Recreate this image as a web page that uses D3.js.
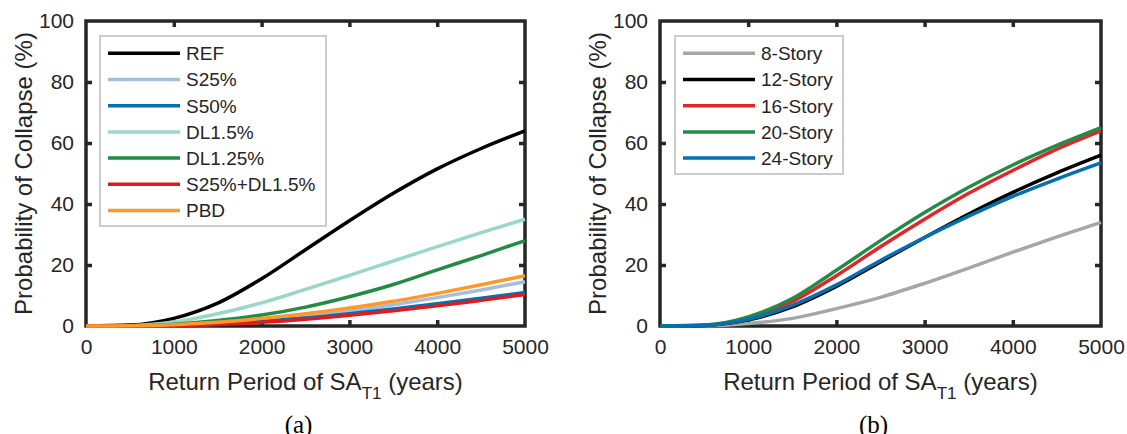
<!DOCTYPE html>
<html>
<head>
<meta charset="utf-8">
<script src="https://cdn.jsdelivr.net/npm/d3@7"></script>
<style>
  html, body { margin: 0; padding: 0; background: #fff; }
  svg { display: block; }
  text { font-family: "Liberation Sans", Arial, sans-serif; fill: #262626; }
  .caption { font-family: "Liberation Serif", "Times New Roman", serif; fill: #000; }
</style>
</head>
<body>
<svg id="chart" width="1127" height="434"></svg>
<script>
// return period (years)
const years = [0, 500, 1000, 1500, 2000, 2500, 3000, 3500, 4000, 4500, 5000];
const xTicks = [0, 1000, 2000, 3000, 4000, 5000];
const yTicks = [0, 20, 40, 60, 80, 100];

// (a) design variants, probability of collapse (%)
const namesA = ['REF', 'S25%', 'S50%', 'DL1.5%', 'DL1.25%', 'S25%+DL1.5%', 'PBD'];
const ref      = [0, 0.3, 2.5, 7.5, 15.5, 25, 34.5, 43.5, 51.5, 58.2, 64];
const s25      = [0, 0, 0.2, 0.8, 1.8, 3.2, 4.9, 7, 9.3, 11.8, 14.5];
const s50      = [0, 0, 0.15, 0.6, 1.5, 2.6, 4, 5.6, 7.3, 9.1, 11];
const dl15     = [0, 0.1, 1.3, 4, 7.6, 12, 16.6, 21.3, 26, 30.6, 35];
const dl125    = [0, 0.05, 0.6, 1.8, 3.6, 6.2, 9.6, 13.6, 18.4, 23.1, 28];
const s25dl15  = [0, 0, 0.1, 0.5, 1.2, 2.2, 3.5, 5, 6.6, 8.4, 10.3];
const pbd      = [0, 0.05, 0.4, 1.2, 2.5, 4, 5.9, 8.1, 10.7, 13.5, 16.5];
const valuesA = [ref, s25, s50, dl15, dl125, s25dl15, pbd];
const colorsA = ['#000000', '#a6bddb', '#0570b0', '#99d8c9', '#238b45', '#e31a1c', '#fe9929'];

// (b) building height
const namesB = ['8-Story', '12-Story', '16-Story', '20-Story', '24-Story'];
const story8  = [0, 0.05, 0.8, 2.5, 5.7, 9.4, 14, 19, 24.2, 29.2, 34];
const story12 = [0, 0.2, 2, 6.3, 13, 21, 29, 36.7, 43.8, 50.2, 56];
const story16 = [0, 0.25, 2.5, 8, 16.5, 26, 35, 43.5, 51, 58, 64];
const story20 = [0, 0.3, 3, 9, 18.3, 28, 37.2, 45.5, 52.8, 59.2, 65];
const story24 = [0, 0.2, 2.2, 6.8, 13.5, 21.5, 29, 36, 42.5, 48.2, 53.5];
const valuesB = [story8, story12, story16, story20, story24];
const colorsB = ['#a6a6a6', '#000000', '#e0262b', '#238b45', '#0570b0'];

const svg = d3.select('#chart');

function drawPanel(opts) {
    const { left, right, top, bottom, names, values, colors, legend, caption } = opts;

    const x = d3.scaleLinear().domain([0, 5000]).range([left, right]);
    const y = d3.scaleLinear().domain([0, 100]).range([bottom, top]);
    const g = svg.append('g');

    // 枠
    g.append('rect')
        .attr('x', left).attr('y', top)
        .attr('width', right - left).attr('height', bottom - top)
        .attr('fill', 'none').attr('stroke', '#262626').attr('stroke-width', 3.5);

    // 内向きの目盛り（四辺）
    const tickLen = 6;
    const axisStyle = sel => {
        sel.select('.domain').remove();
        sel.selectAll('.tick line').attr('stroke', '#262626').attr('stroke-width', 3.5);
        sel.selectAll('.tick text').style('font-size', '21px').attr('fill', '#262626');
    };
    g.append('g').attr('transform', `translate(0,${bottom})`)
        .call(d3.axisBottom(x).tickValues(xTicks).tickSize(-tickLen).tickPadding(13).tickFormat(d3.format('d')))
        .call(axisStyle);
    g.append('g').attr('transform', `translate(0,${top})`)
        .call(d3.axisTop(x).tickValues(xTicks.slice(1, -1)).tickSize(-tickLen).tickFormat(''))
        .call(axisStyle);
    g.append('g').attr('transform', `translate(${left},0)`)
        .call(d3.axisLeft(y).tickValues(yTicks).tickSize(-tickLen).tickPadding(12))
        .call(axisStyle);
    g.append('g').attr('transform', `translate(${right},0)`)
        .call(d3.axisRight(y).tickValues(yTicks.slice(1, -1)).tickSize(-tickLen).tickFormat(''))
        .call(axisStyle);
    g.selectAll('.tick').filter(d => d === 0 || d === 5000 || d === 100)
        .select('line').remove();

    // 曲線
    const line = d3.line()
        .x((d, i) => x(years[i]))
        .y(d => y(d))
        .curve(d3.curveMonotoneX);
    values.forEach((vals, i) => {
        g.append('path')
            .datum(vals)
            .attr('d', line)
            .attr('fill', 'none')
            .attr('stroke', colors[i])
            .attr('stroke-width', 3.5);
    });

    // 軸ラベル
    const cx = (left + right) / 2;
    const xt = g.append('text')
        .attr('x', cx).attr('y', 390)
        .attr('text-anchor', 'middle')
        .style('font-size', '24px');
    xt.append('tspan').text('Return Period of SA');
    xt.append('tspan').attr('dy', 9).style('font-size', '17px').text('T1');
    xt.append('tspan').attr('dy', -9).text(' (years)');

    g.append('text')
        .attr('transform', `translate(${left - 54},${(top + bottom) / 2}) rotate(-90)`)
        .attr('text-anchor', 'middle')
        .style('font-size', '24px')
        .text('Probability of Collapse (%)');

    // 凡例
    const lg = g.append('g');
    lg.append('rect')
        .attr('x', legend.x).attr('y', legend.y)
        .attr('width', legend.w).attr('height', legend.h)
        .attr('fill', '#fff').attr('stroke', '#cccccc').attr('stroke-width', 2);
    names.forEach((name, i) => {
        const ly = legend.y + 17.3 + i * 26.2;
        lg.append('line')
            .attr('x1', legend.x + 8).attr('x2', legend.x + 80)
            .attr('y1', ly).attr('y2', ly)
            .attr('stroke', colors[i]).attr('stroke-width', 3.5);
        lg.append('text')
            .attr('x', legend.x + 86).attr('y', ly)
            .attr('dy', '0.36em')
            .style('font-size', '19px')
            .attr('fill', '#000')
            .text(name);
    });

    svg.append('text')
        .attr('class', 'caption')
        .attr('x', cx - 7).attr('y', 433)
        .attr('text-anchor', 'middle')
        .style('font-size', '25px')
        .text(caption);
}

drawPanel({
    left: 86, right: 525, top: 21, bottom: 326,
    names: namesA, values: valuesA, colors: colorsA,
    legend: { x: 100, y: 36, w: 226, h: 190 },
    caption: '(a)'
});

drawPanel({
    left: 660, right: 1101, top: 21, bottom: 326,
    names: namesB, values: valuesB, colors: colorsB,
    legend: { x: 675, y: 36, w: 168, h: 138 },
    caption: '(b)'
});
</script>
</body>
</html>
